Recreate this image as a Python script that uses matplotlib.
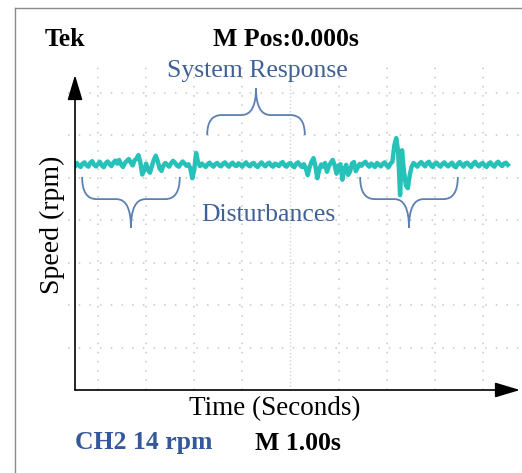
import numpy as np
import matplotlib
matplotlib.use("Agg")
import matplotlib.pyplot as plt
from matplotlib.path import Path
from matplotlib.patches import PathPatch
from matplotlib.lines import Line2D

# scope trace, CH2 speed (rpm), sampled every ~0.04 s across the screen
speed_rpm = [
    74.3, 73.6, 74.8, 74.0, 73.5, 74.6, 75.0, 74.1, 73.6, 74.9,
    75.4, 74.2, 73.7, 74.5, 75.2, 74.0, 73.4, 74.7, 75.3, 74.4,
    73.8, 74.9, 75.6, 74.6, 75.8, 74.3, 73.5, 74.8, 75.5, 76.1,
    75.0, 74.0, 75.7, 76.2, 77.4, 75.0, 71.0, 72.4, 74.6, 72.5,
    71.6, 73.8, 75.8, 77.2, 75.5, 73.0, 72.2, 74.0, 74.8, 74.2,
    73.6, 74.7, 75.5, 74.9, 74.0, 73.6, 74.5, 75.3, 74.6, 73.9,
    74.4, 73.0, 69.8, 72.5, 78.1, 75.0, 73.8, 74.6, 74.0, 73.5,
    74.4, 74.9, 74.1, 73.6, 74.5, 74.8, 74.0, 73.7, 74.6, 75.0,
    74.2, 73.6, 74.4, 74.9, 74.0, 73.8, 74.7, 74.3, 73.6, 74.5,
    75.0, 74.1, 73.7, 74.6, 74.8, 73.9, 73.5, 74.4, 75.0, 74.2,
    73.7, 74.5, 74.9, 74.0, 73.6, 74.6, 74.3, 73.8, 74.7, 75.1,
    74.0, 73.6, 74.5, 74.8, 73.9, 73.4, 74.6, 75.0, 74.1, 73.5,
    74.4, 73.0, 70.8, 73.5, 75.2, 76.4, 73.8, 69.8, 72.6, 74.3,
    73.6, 74.8, 71.9, 73.8, 74.9, 75.8, 74.0, 71.3, 73.9, 74.4,
    69.3, 72.8, 74.2, 70.9, 72.0, 74.6, 75.1, 72.1, 73.4, 74.5,
    73.9, 74.7, 75.2, 74.2, 73.6, 74.6, 74.0, 73.5, 74.8, 74.3,
    73.7, 74.5, 75.0, 74.0, 73.4, 74.6, 75.2, 80.5, 83.0, 78.5,
    64.2, 79.0, 72.0, 67.5, 66.5, 70.8, 73.6, 74.8, 74.2, 73.6,
    74.6, 75.1, 74.3, 73.7, 74.8, 75.2, 74.0, 73.5, 74.6, 74.9,
    74.1, 73.6, 74.5, 75.0, 74.2, 73.7, 74.4, 74.9, 73.8, 73.4,
    74.5, 75.1, 74.3, 73.6, 74.7, 74.9, 74.0, 73.5, 74.6, 75.2,
    74.2, 73.7, 74.5, 74.8, 73.9, 73.5, 74.6, 75.0, 74.1, 73.6,
    74.7, 75.2, 74.3, 73.8, 74.6, 74.9, 74.2,
]
trace_start_s = 0.48
trace_end_s = 9.52
time_s = np.linspace(trace_start_s, trace_end_s, len(speed_rpm))

# graticule: 1 s per division, 14 rpm per division
grid_times = [1, 2, 3, 4, 6, 7, 8, 9]
center_time = 5
grid_speeds = [14, 28, 42, 56, 70, 84, 98]

# annotated regions (start s, end s)
response_span = (3.27, 5.30)
disturbance_spans = [(0.67, 2.70), (6.45, 8.48)]

trace_color = "#26c2b9"
brace_color = "#5a80b4"
note_color = "#3f6197"
ch_color = "#34589a"
serif = ["Liberation Serif", "DejaVu Serif"]

W, H = 522, 473
fig = plt.figure(figsize=(W / 100, H / 100), dpi=100)
ax = fig.add_axes([75 / W, 83 / H, 445 / W, 315 / H])
ax.set_xlim(0.522, 9.773)
ax.set_ylim(0, 103.8)
for s in ax.spines.values():
    s.set_visible(False)
ax.set_xticks([])
ax.set_yticks([])

grid_kw = dict(color="#c6c6c6", lw=1.1, clip_on=False, zorder=1)
for g in grid_speeds:
    ax.axhline(g, xmin=-0.016, xmax=1.01, ls=(0, (1, 6)), **grid_kw)
for g in grid_times:
    ax.axvline(g, ymin=0, ymax=1.04, ls=(0, (1, 5)), **grid_kw)
ax.axvline(center_time, ymin=0, ymax=1.04, ls=(0, (1.0, 1.6)),
           color="#d4d4d4", lw=1.0, clip_on=False, zorder=1)

ax.plot(time_s, speed_rpm, color=trace_color, lw=3.2, solid_joinstyle="round", zorder=3)

# axis arrows
arrow = dict(arrowstyle="-|>,head_length=1.1,head_width=0.33", mutation_scale=14,
             color="black", lw=1.2, shrinkA=0, shrinkB=0)
ax.annotate("", xy=(0, 1), xytext=(0, 0), xycoords="axes fraction", arrowprops=arrow)
ax.annotate("", xy=(1, 0), xytext=(0, 0), xycoords="axes fraction", arrowprops=arrow)


def brace(ax, t0, t1, y_end, y_mid, y_tip, r=0.3):
    tc = (t0 + t1) / 2
    verts = [(t0, y_end), (t0, y_mid), (t0 + r, y_mid),
             (tc - r, y_mid),
             (tc, y_mid), (tc, y_tip),
             (tc, y_mid), (tc + r, y_mid),
             (t1 - r, y_mid),
             (t1, y_mid), (t1, y_end)]
    codes = [Path.MOVETO, Path.CURVE3, Path.CURVE3,
             Path.LINETO,
             Path.CURVE3, Path.CURVE3,
             Path.CURVE3, Path.CURVE3,
             Path.LINETO,
             Path.CURVE3, Path.CURVE3]
    ax.add_patch(PathPatch(Path(verts, codes), fill=False, ec=brace_color,
                           lw=1.3, clip_on=False, zorder=4))


brace(ax, response_span[0], response_span[1], 84.0, 90.6, 99.5)
for t0, t1 in disturbance_spans:
    brace(ax, t0, t1, 70.2, 62.9, 53.4)

# labels and scope readouts
def ftext(x, y, s, **kw):
    fig.text(x / W, 1 - y / H, s, family=serif, va="center", **kw)


ftext(45, 40, "Tek", fontsize=18.5, weight="bold", ha="left")
ftext(286, 40, "M Pos:0.000s", fontsize=18.5, weight="bold", ha="center")
ftext(257, 71, "System Response", fontsize=18.5, color=note_color, ha="center")
ftext(268, 215, "Disturbances", fontsize=18.5, color=note_color, ha="center")
ftext(52, 225, "Speed (rpm)", fontsize=20, rotation=90, ha="center")
ftext(275, 409, "Time (Seconds)", fontsize=19.5, ha="center")
ftext(75, 443, "CH2 14 rpm", fontsize=18.5, weight="bold", color=ch_color, ha="left")
ftext(255, 443, "M 1.00s", fontsize=18.5, weight="bold", ha="left")

# outer frame (left and top edges)
fig.add_artist(Line2D([15 / W, 15 / W], [0, 1 - 8 / H], color="#8a8a8a", lw=1.0))
fig.add_artist(Line2D([15 / W, 1], [1 - 8 / H, 1 - 8 / H], color="#8a8a8a", lw=1.0))

fig.savefig("out.png", dpi=100)
